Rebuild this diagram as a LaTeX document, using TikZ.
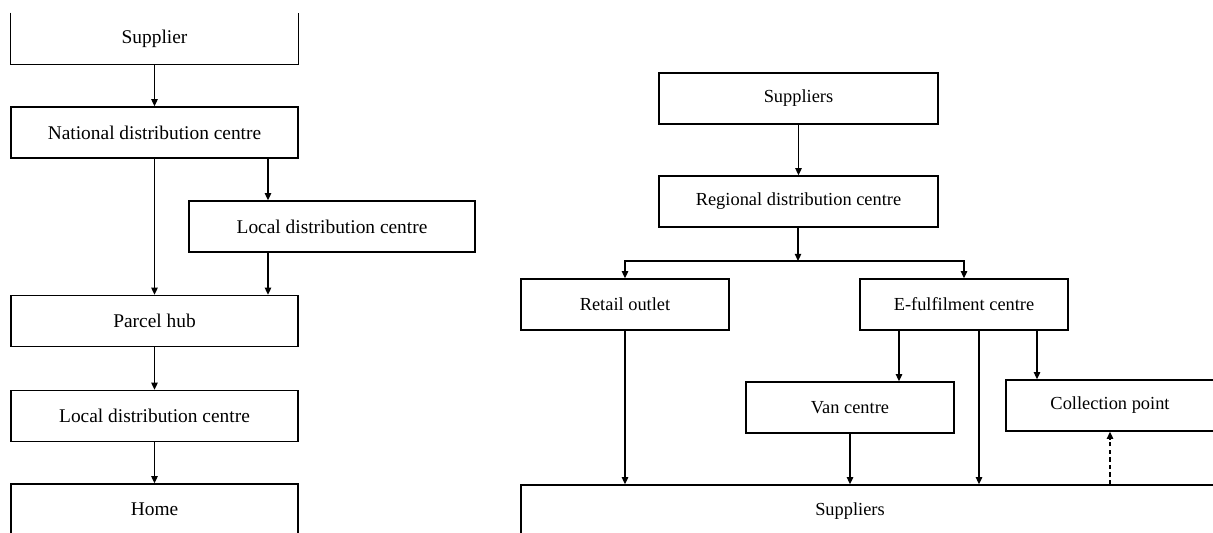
\documentclass[tikz,border=0pt]{standalone}
\usepackage{fontspec}
\setmainfont{Liberation Serif}
\usetikzlibrary{arrows.meta}
\begin{document}
\begin{tikzpicture}[x=0.5pt,y=-0.5pt,
  box/.style={draw=black,line width=0.7pt,inner sep=0pt,minimum height=25.5pt,font=\fontsize{9.7}{11}\selectfont},
  rbox/.style={box,font=\fontsize{9.2}{11}\selectfont},
  plain/.style={inner sep=0pt,minimum height=25.5pt,font=\fontsize{9.7}{11}\selectfont},
  arr/.style={-{Triangle[width=3.2pt,length=3.6pt]},line width=0.7pt},
  darr/.style={arr,dashed,dash pattern=on 2.2pt off 1.6pt}]
\useasboundingbox (0,0) rectangle (1213,532);
\clip (0,0) rectangle (1213,532);
% left chain
\node[plain,minimum width=143.5pt] (sup) at (154.5,38.5) {Supplier};
\draw[line width=0.7pt] (sup.north west) -- (sup.south west) -- (sup.south east) -- (sup.north east);
\node[box,minimum width=143.5pt] (nat) at (154.5,132.5) {National distribution centre};
\node[box,minimum width=143pt] (loca) at (332,226.5) {Local distribution centre};
\node[box,minimum width=143.5pt] (hub) at (154.5,321) {Parcel hub};
\node[box,minimum width=143.5pt] (locb) at (154.5,416) {Local distribution centre};
\node[box,minimum width=143.5pt] (home) at (154.5,509.5) {Home};
\coordinate (xl) at (268,0);
\draw[arr] (sup) -- (nat);
\draw[arr] (nat) -- (hub);
\draw[arr] (nat.south -| xl) -- (loca.north -| xl);
\draw[arr] (loca.south -| xl) -- (hub.north -| xl);
\draw[arr] (hub) -- (locb);
\draw[arr] (locb) -- (home);
% right chain
\node[rbox,minimum width=139.5pt] (rsup) at (798.5,98.5) {Suppliers};
\node[rbox,minimum width=139.5pt] (reg) at (798.5,201.5) {Regional distribution centre};
\node[rbox,minimum width=104pt] (retail) at (625,304.5) {Retail outlet};
\node[rbox,minimum width=104pt] (efc) at (964,304.5) {E-fulfilment centre};
\node[rbox,minimum width=104pt] (van) at (850,407.5) {Van centre};
\node[rbox,minimum width=104pt] (coll) at (1110,405.5) {Collection point};
\node[rbox,minimum width=370pt] (bot) at (891,510.5) {};
\node[inner sep=0pt,font=\fontsize{9.2}{11}\selectfont] (botlbl) at (850,511) {Suppliers};
\coordinate (jn) at (798,261);
\coordinate (xa) at (899,0);
\coordinate (xb) at (979,0);
\coordinate (xc) at (1037,0);
\coordinate (xd) at (1110,0);
\draw[arr] (rsup) -- (reg);
\draw[arr] (reg.south -| jn) -- (jn);
\draw[{Triangle[width=3.2pt,length=3.6pt]}-{Triangle[width=3.2pt,length=3.6pt]},line width=0.7pt] (retail.north) |- (jn) -| (efc.north);
\draw[arr] (retail.south) -- (bot.north -| retail.south);
\draw[arr] (efc.south -| xa) -- (van.north -| xa);
\draw[arr] (efc.south -| xb) -- (bot.north -| xb);
\draw[arr] (efc.south -| xc) -- (coll.north -| xc);
\draw[arr] (van.south) -- (bot.north -| van.south);
\draw[darr] (bot.north -| xd) -- (coll.south -| xd);
\end{tikzpicture}
\end{document}
